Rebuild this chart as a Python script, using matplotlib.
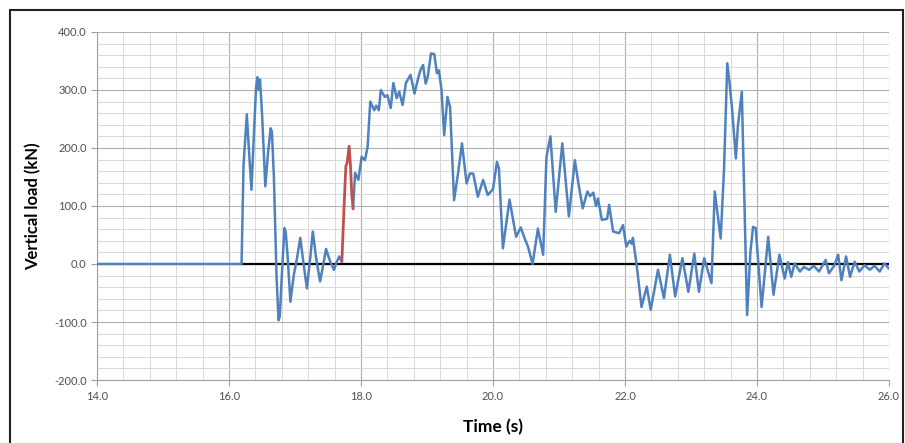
import numpy as np
import matplotlib
matplotlib.use("Agg")
import matplotlib.pyplot as plt
from matplotlib.patches import Rectangle
from matplotlib.ticker import MultipleLocator

plt.rcParams['font.family'] = ['Lato', 'DejaVu Sans']

# measured vertical load (blue trace)
t_a = [14.0, 16.19, 16.22, 16.27, 16.30, 16.34, 16.38, 16.41, 16.43, 16.45, 16.47, 16.50,
       16.55, 16.59, 16.63, 16.65, 16.68, 16.72, 16.75, 16.77, 16.80, 16.84, 16.86, 16.89,
       16.93, 16.98, 17.03, 17.08, 17.13, 17.18, 17.23, 17.27, 17.32, 17.38, 17.43, 17.47,
       17.53, 17.59, 17.63, 17.67, 17.71]
v_a = [0, 0, 170, 258, 200, 128, 230, 305, 322, 300, 318, 260,
       134, 190, 234, 228, 150, -20, -97, -90, -20, 62, 55, 10,
       -65, -20, 10, 45, 0, -42, 10, 56, 10, -30, 0, 26,
       5, -10, 3, 13, 4]

# highlighted part (red trace)
t_red = [17.71, 17.74, 17.77, 17.79, 17.82, 17.84, 17.86, 17.88]
v_red = [4, 90, 168, 175, 203, 170, 120, 95]

t_b = [17.88, 17.91, 17.96, 18.01, 18.06, 18.10, 18.14, 18.20, 18.23, 18.27, 18.30,
       18.36, 18.40, 18.45, 18.49, 18.54, 18.58, 18.63, 18.68, 18.72, 18.75, 18.81,
       18.87, 18.90, 18.94, 18.98, 19.01, 19.06, 19.11, 19.15, 19.18, 19.22, 19.26,
       19.31, 19.35, 19.41, 19.47, 19.53, 19.60, 19.65, 19.70, 19.77, 19.85, 19.92,
       20.00, 20.06, 20.09, 20.15, 20.25, 20.35, 20.42, 20.48, 20.53, 20.60, 20.68,
       20.76, 20.81, 20.87, 20.95, 21.05, 21.15, 21.24, 21.29, 21.36, 21.43, 21.47,
       21.52, 21.56, 21.59, 21.65, 21.73, 21.76, 21.82, 21.91, 21.97, 22.02, 22.07,
       22.10, 22.12, 22.18, 22.25, 22.33, 22.39, 22.50, 22.59, 22.68, 22.76, 22.87,
       22.96, 23.05, 23.12, 23.20, 23.31, 23.36, 23.45, 23.50, 23.55, 23.58, 23.62,
       23.68, 23.71, 23.77, 23.80, 23.85, 23.90, 23.94, 23.98, 24.07, 24.17, 24.25,
       24.34, 24.42, 24.47, 24.52, 24.57, 24.65, 24.71, 24.79, 24.86, 24.94, 25.04,
       25.09, 25.17, 25.23, 25.28, 25.35, 25.41, 25.48, 25.55, 25.63, 25.71, 25.78,
       25.86, 25.93, 26.0]
v_b = [95, 157, 145, 185, 179, 202, 280, 265, 273, 265, 300,
       288, 291, 269, 312, 286, 297, 274, 312, 320, 326, 294,
       322, 334, 343, 311, 322, 363, 362, 329, 334, 300, 222,
       288, 270, 110, 156, 208, 139, 156, 156, 116, 145, 119,
       129, 176, 165, 27, 111, 47, 63, 44, 30, 0, 61,
       16, 185, 220, 90, 208, 82, 179, 142, 96, 125, 117,
       123, 100, 113, 76, 78, 102, 56, 53, 67, 30, 40,
       35, 45, -5, -74, -39, -79, -10, -59, 16, -56, 10,
       -48, 18, -48, 10, -33, 125, 44, 162, 346, 317, 271,
       182, 237, 297, 150, -88, 20, 64, 62, -74, 47, -53,
       16, -25, 3, -22, 1, -13, -5, -10, -3, -13, 7,
       -16, -3, 16, -28, 13, -22, 4, -13, -2, -10, -3,
       -13, 1, -8]

# zero reference line
t_zero = [16.18, 26.0]
v_zero = [0, 0]

fig = plt.figure(figsize=(9.05, 4.43), dpi=100)
ax = fig.add_axes([0.1072, 0.1422, 0.8751, 0.7856])

line_kw = dict(solid_joinstyle='round', solid_capstyle='round')
ax.plot(t_zero, v_zero, color='black', linewidth=1.6, zorder=2)
ax.plot(t_a, v_a, color='#4F81BD', linewidth=1.8, zorder=3, **line_kw)
ax.plot(t_b, v_b, color='#4F81BD', linewidth=1.8, zorder=3, **line_kw)
ax.plot(t_red, v_red, color='#C0504D', linewidth=2.0, zorder=4, **line_kw)

ax.set_xlim(14, 26)
ax.set_ylim(-200, 400)
ax.xaxis.set_major_locator(MultipleLocator(2))
ax.xaxis.set_minor_locator(MultipleLocator(0.4))
ax.yaxis.set_major_locator(MultipleLocator(100))
ax.yaxis.set_minor_locator(MultipleLocator(20))
ax.xaxis.set_major_formatter(lambda x, p: f"{x:.1f}")
ax.yaxis.set_major_formatter(lambda y, p: f"{y:.1f}")

ax.grid(which='major', color='#b0b0b0', linewidth=0.8)
ax.grid(which='minor', color='#d8d8d8', linewidth=0.7)
ax.set_axisbelow(True)

for s in ['top', 'right']:
    ax.spines[s].set_visible(False)
for s in ['left', 'bottom']:
    ax.spines[s].set_color('#a0a0a0')
    ax.spines[s].set_linewidth(0.8)

ax.tick_params(which='major', length=4, color='#a0a0a0', labelsize=8,
               labelcolor='#505050')
ax.tick_params(which='minor', length=0)
ax.tick_params(axis='x', pad=4)

ax.set_xlabel("Time (s)", fontsize=12.5, fontweight='bold', labelpad=12)
ax.set_ylabel("Vertical load (kN)", fontsize=12, fontweight='bold', labelpad=9)

# outer frame of the picture
frame = Rectangle((10 / 905, -0.1), 893 / 905, 1.1 - 10 / 443, transform=fig.transFigure,
                  fill=False, edgecolor='#222222', linewidth=1.5, clip_on=False)
fig.patches.append(frame)

fig.savefig("out.png", dpi=100)
